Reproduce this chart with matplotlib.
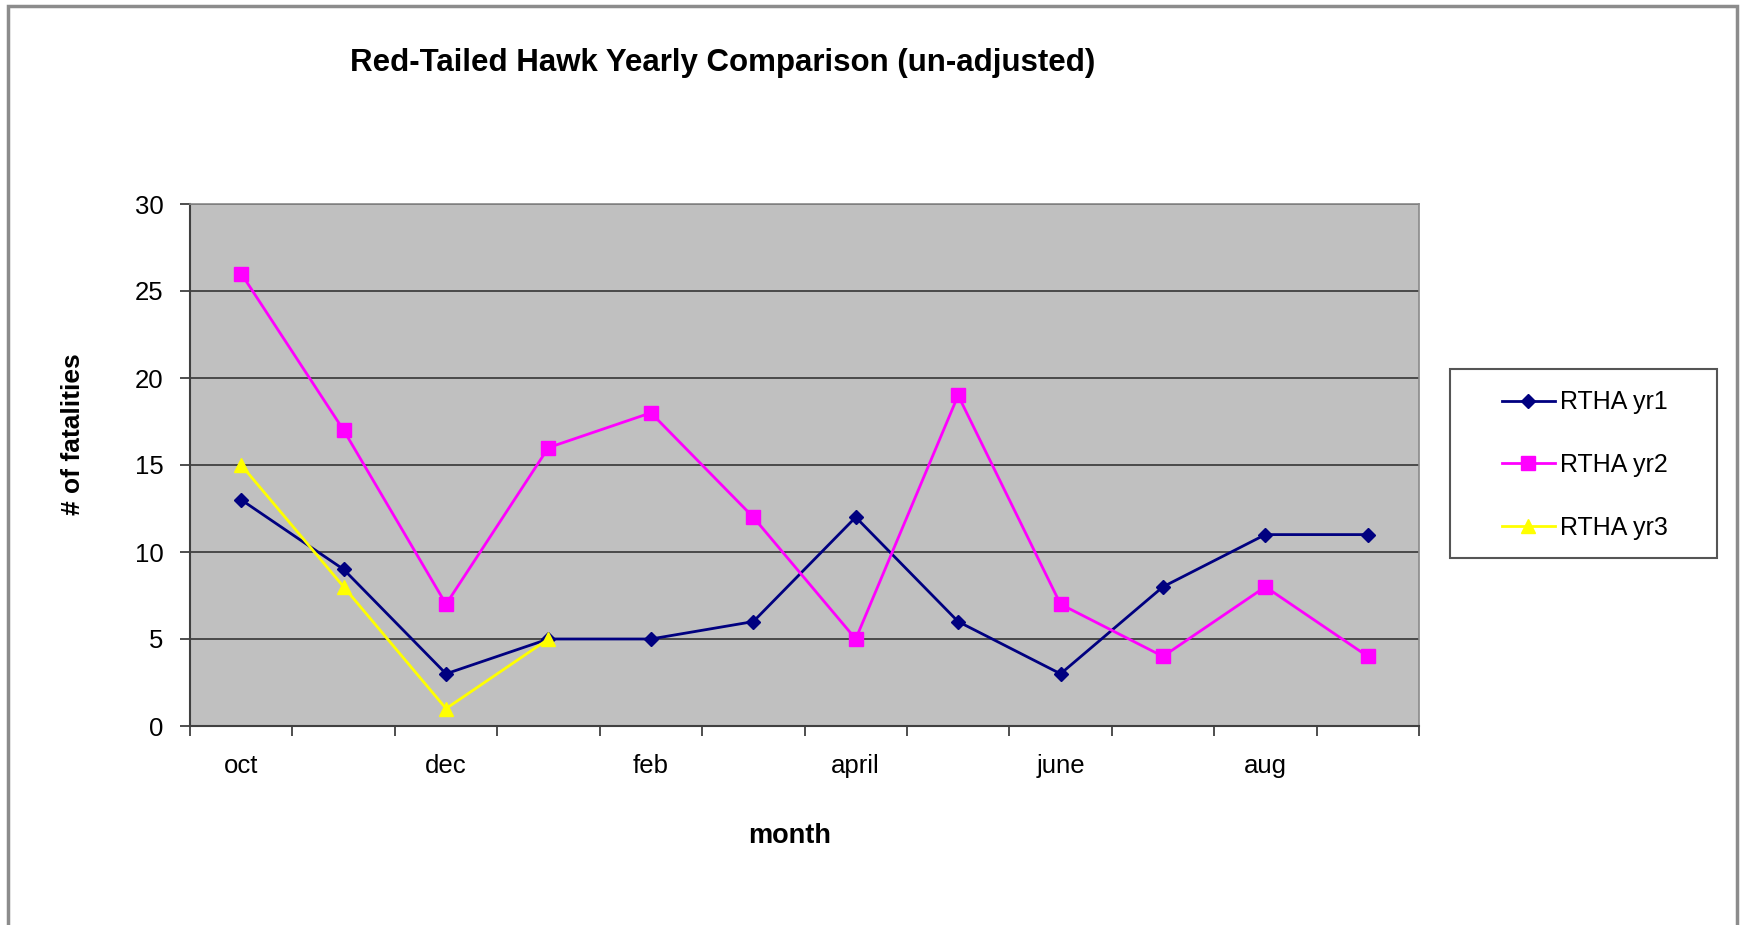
import numpy as np
import matplotlib
matplotlib.use("Agg")
import matplotlib.pyplot as plt
from matplotlib.patches import Rectangle

plt.rcParams.update({"font.family": ["Liberation Sans", "DejaVu Sans"]})

months = ["oct", "nov", "dec", "jan", "feb", "mar",
          "april", "may", "june", "july", "aug", "sep"]
shown = ["oct", "", "dec", "", "feb", "", "april", "", "june", "", "aug", ""]
yr1 = [13, 9, 3, 5, 5, 6, 12, 6, 3, 8, 11, 11]
yr2 = [26, 17, 7, 16, 18, 12, 5, 19, 7, 4, 8, 4]
yr3 = [15, 8, 1, 5]

W, H = 1741, 925
fig = plt.figure(figsize=(W / 100, H / 100), dpi=100, facecolor="white")
ax = fig.add_axes([190 / W, 1 - 726 / H, (1419 - 190) / W, (726 - 204) / H])
ax.set_facecolor("#c0c0c0")

x = np.arange(len(months))
ax.plot(x, yr1, "-D", color="#000080", lw=2, ms=7, label="RTHA yr1")
ax.plot(x, yr2, "-s", color="#ff00ff", lw=2, ms=9.5, label="RTHA yr2")
ax.plot(x[:len(yr3)], yr3, "-^", color="#ffff00", lw=2, ms=9.5,
        label="RTHA yr3")

ax.set_xlim(-0.5, len(months) - 0.5)
ax.set_ylim(0, 30)
ax.set_yticks(range(0, 31, 5))
ax.yaxis.grid(True, color="#404040", lw=1.3)
ax.set_axisbelow(True)

ax.set_xticks(np.arange(-0.5, len(months), 1))
ax.set_xticklabels([])
ax.set_xticks(x, minor=True)
ax.set_xticklabels(shown, minor=True)
ax.tick_params(axis="x", which="minor", length=0, pad=20, labelsize=18.5)
ax.tick_params(axis="x", which="major", length=7, width=1.3,
               color="#404040")
ax.tick_params(axis="y", length=7, width=1.3, color="#404040", pad=12,
               labelsize=18.5)

for s in ["left", "bottom"]:
    ax.spines[s].set_color("#404040")
    ax.spines[s].set_linewidth(1.5)
for s in ["top", "right"]:
    ax.spines[s].set_color("#8a8a8a")
    ax.spines[s].set_linewidth(1.2)

fig.text(723 / W, 1 - 63 / H, "Red-Tailed Hawk Yearly Comparison (un-adjusted)",
         ha="center", va="center", fontsize=22.5, fontweight="bold")
fig.text(73 / W, 1 - 434 / H, "# of fatalities", rotation=90,
         ha="center", va="center", fontsize=19, fontweight="bold")
fig.text(790 / W, 1 - 836 / H, "month", ha="center", va="center",
         fontsize=19.5, fontweight="bold")

# legend box drawn separately (behind) so padding matches the reference
fig.patches.append(Rectangle((1450 / W, 1 - 558 / H), 267 / W, 189 / H,
                             transform=fig.transFigure, facecolor="white",
                             edgecolor="#555555", lw=1.5, zorder=-1))
leg = ax.legend(loc="center left", bbox_to_anchor=(1502 / W, 1 - 465 / H),
                bbox_transform=fig.transFigure, fontsize=18, frameon=False,
                labelspacing=1.55, handlelength=2.1, handletextpad=0.2,
                borderpad=0, borderaxespad=0)

fig.patches.append(Rectangle((8 / W, -0.05), (1737 - 8) / W, 1.05 - 6 / H,
                             transform=fig.transFigure, fill=False,
                             edgecolor="#8c8c8c", lw=2.5, zorder=-1))

fig.savefig("out.png", dpi=100, facecolor="white")
